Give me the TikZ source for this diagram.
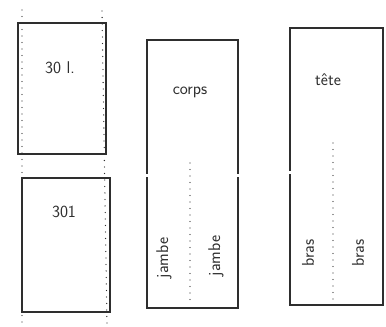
\documentclass[tikz,border=0pt]{standalone}
\usetikzlibrary{positioning}
\definecolor{pencil}{HTML}{2E2E2E}
\tikzset{
  sheet/.style ={draw=pencil,line width=1.3pt,inner sep=0pt},
  fold/.style  ={draw=pencil,line width=1.3pt,dash pattern=on 0pt off 6.5pt,
                 line cap=round},
  word/.style  ={font=\sffamily\fontsize{17}{19}\selectfont,text=pencil,
                 inner sep=1pt},
  nick/.style  ={draw=white,line width=3pt},
}
\begin{document}
\begin{tikzpicture}[x=1pt,y=-1pt]
\useasboundingbox[fill=white] (0,0) rectangle (386,327);
% two small sheets
\node[sheet,minimum width=88pt,minimum height=131pt] (small1) at (62,88.5) {};
\node[sheet,minimum width=88pt,minimum height=134pt] (small2) at (66,245) {};
\node[word] (vol1) at (60,68) {30 l.};
\node[word] (vol2) at (64,212) {301};
% fold lines of the small sheets
\coordinate (lefttop) at (22,10);
\coordinate (leftbot) at (22,325);
\coordinate (righttop) at (102,11);
\coordinate (rightbot) at (107,325);
\draw[fold] (lefttop) -- (leftbot);
\draw[fold] (righttop) -- (rightbot);
% body sheet
\node[sheet,minimum width=91pt,minimum height=268pt] (body) at (192.5,174) {};
\node[word] (corps) at (190,92) {corps};
\node[word,rotate=90] (leg1) at (164,258) {jambe};
\node[word,rotate=90] (leg2) at (216,256) {jambe};
\coordinate (legtop) at (190,163);
\coordinate (legbot) at (190,306);
\draw[fold] (legtop) -- (legbot);
\draw[nick] (147,174) -- (147,177);
\draw[nick] (238,174) -- (238,177);
% head sheet
\node[sheet,minimum width=93pt,minimum height=277pt] (head) at (336.5,166.5) {};
\node[word] (tete) at (328,80) {tête};
\node[word,rotate=90] (arm1) at (308,253) {bras};
\node[word,rotate=90] (arm2) at (358,253) {bras};
\coordinate (armtop) at (333,143);
\coordinate (armbot) at (333,303);
\draw[fold] (armtop) -- (armbot);
\draw[nick] (290,171) -- (290,174);
\end{tikzpicture}
\end{document}
